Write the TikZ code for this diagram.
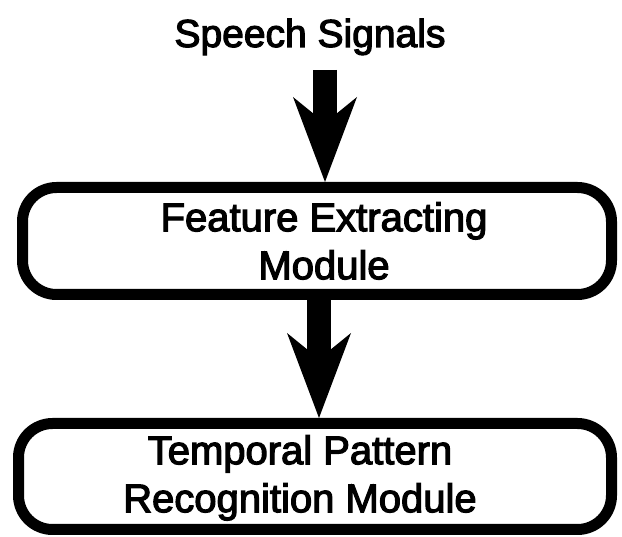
\documentclass[tikz,border=0pt]{standalone}
\usepackage{fontspec}
\setmainfont{Liberation Sans}
\newfontfamily\medsans{Liberation Sans}[FakeBold=3]
\usetikzlibrary{arrows.meta}
\begin{document}
\begin{tikzpicture}[x=1pt,y=1pt,
  modbox/.style={draw=black, line width=11pt, rounded corners=34pt, inner sep=0pt},
  lbl/.style={inner sep=0pt, align=center, font=\medsans\fontsize{40}{48}\selectfont},
  ttl/.style={inner sep=0pt, font=\medsans\fontsize{39}{46}\selectfont},
  bigarrow/.style={line width=24pt, -{Stealth[length=85pt, width=64pt, inset=26pt, line width=0pt]}}]
\useasboundingbox (0,0) rectangle (622,-537);
% title
\node[ttl, anchor=base] (src) at (310,-47) {Speech Signals};
% boxes
\node[modbox, minimum width=589pt, minimum height=107pt] (fe) at (317,-241) {};
\node[modbox, minimum width=593pt, minimum height=106pt] (tp) at (315,-476.5) {};
% labels
\node[lbl, anchor=north] (fet) at (324,-202) {Feature Extracting\\Module};
\node[lbl, anchor=north] (tpt) at (300,-435) {Temporal Pattern\\Recognition Module};
% arrows
\coordinate (a1s) at (325,-70);
\coordinate (a2x) at (319,0);
\draw[bigarrow] (a1s) -- (a1s |- fe.north);
\draw[bigarrow] (a2x |- fe.south) -- (a2x |- tp.north);
\end{tikzpicture}
\end{document}
